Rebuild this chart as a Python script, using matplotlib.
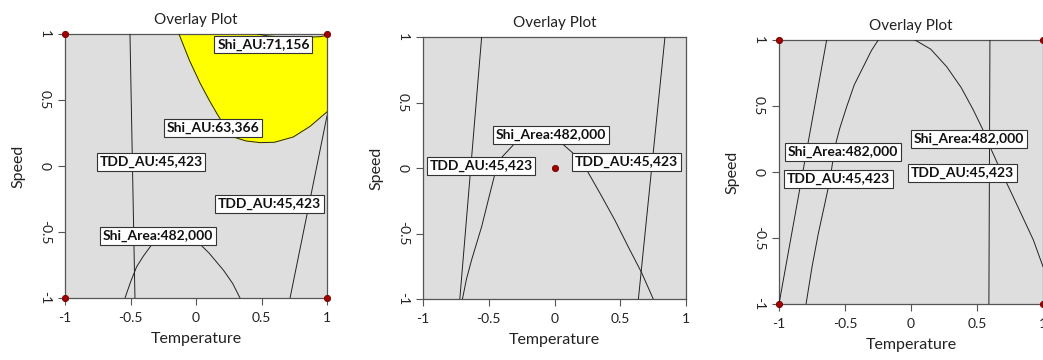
import numpy as np
import matplotlib
matplotlib.use("Agg")
import matplotlib.pyplot as plt

plt.rcParams['font.family'] = ['Lato', 'DejaVu Sans']

# ---- data ----
ticks = [-1, -0.5, 0, 0.5, 1]
tick_labels = ["-1", "-0.5", "0", "0.5", "1"]

# panel 1
p1_tdd_left_x = [-0.504, -0.485, -0.466]
p1_tdd_left_y = [1.0, 0.0, -1.0]
p1_tdd_right_x = [0.718, 0.947, 1.0]
p1_tdd_right_y = [-1.0, 0.12, 0.38]
p1_area_x = [-0.542, -0.50, -0.453, -0.40, -0.326, -0.15, 0.018, 0.10, 0.21, 0.28, 0.336]
p1_area_y = [-1.0, -0.88, -0.763, -0.68, -0.58, -0.50, -0.58, -0.66, -0.79, -0.89, -1.0]
p1_au63_x = [-0.13, -0.05, 0.03, 0.10, 0.158, 0.22, 0.285, 0.38, 0.49, 0.60, 0.743, 0.87, 1.0]
p1_au63_y = [1.0, 0.80, 0.63, 0.50, 0.40, 0.30, 0.22, 0.19, 0.177, 0.18, 0.22, 0.30, 0.41]
p1_au71_x = [0.47, 0.55, 0.70, 0.85, 0.95, 1.0]
p1_au71_y = [1.0, 0.985, 0.975, 0.975, 0.98, 0.99]
p1_dots_x = [-1, 1, -1, 1]
p1_dots_y = [1, 1, -1, -1]
p1_labels = ["Shi_AU:71,156", "Shi_AU:63,366", "TDD_AU:45,423", "TDD_AU:45,423", "Shi_Area:482,000"]
p1_label_x = [0.515, 0.13, -0.344, 0.562, -0.29]
p1_label_y = [0.92, 0.29, 0.03, -0.29, -0.528]

# panel 2
p2_tdd_left_x = [-0.554, -0.72]
p2_tdd_left_y = [1.0, -1.0]
p2_tdd_right_x = [0.84, 0.638]
p2_tdd_right_y = [1.0, -1.0]
p2_area_x = [-0.70, -0.67, -0.63, -0.554, -0.50, -0.452, -0.397, -0.30, -0.13,
             0.042, 0.156, 0.245, 0.35, 0.46, 0.56, 0.663, 0.751]
p2_area_y = [-1.0, -0.85, -0.70, -0.448, -0.23, -0.04, 0.086, 0.19, 0.26,
             0.20, 0.10, -0.015, -0.20, -0.40, -0.60, -0.80, -1.0]
p2_dots_x = [0]
p2_dots_y = [0]
p2_labels = ["Shi_Area:482,000", "TDD_AU:45,423", "TDD_AU:45,423"]
p2_label_x = [-0.029, -0.559, 0.549]
p2_label_y = [0.252, 0.013, 0.048]

# panel 3
p3_tdd_left_x = [-0.639, -1.0]
p3_tdd_left_y = [1.0, -1.0]
p3_tdd_right_x = [0.598, 0.59]
p3_tdd_right_y = [1.0, -1.0]
p3_area_left_x = [-0.795, -0.75, -0.702, -0.655, -0.614, -0.576, -0.54, -0.487,
                  -0.43, -0.361, -0.30, -0.248]
p3_area_left_y = [-1.0, -0.72, -0.465, -0.25, -0.06, 0.192, 0.33, 0.495,
                  0.66, 0.798, 0.92, 1.0]
p3_area_right_x = [0.03, 0.15, 0.27, 0.38, 0.472, 0.54, 0.598, 0.68, 0.763, 0.85, 0.927, 1.0]
p3_area_right_y = [1.0, 0.93, 0.798, 0.64, 0.47, 0.33, 0.192, 0.01, -0.164, -0.35, -0.515, -0.717]
p3_dots_x = [-1, 1, -1, 1]
p3_dots_y = [1, 1, -1, -1]
p3_labels = ["Shi_Area:482,000", "TDD_AU:45,423", "Shi_Area:482,000", "TDD_AU:45,423"]
p3_label_x = [-0.513, -0.548, 0.441, 0.39]
p3_label_y = [0.15, -0.053, 0.248, -0.01]


fig = plt.figure(figsize=(10.43, 3.6), dpi=100)
ax1 = fig.add_axes([65 / 1043, 1 - 298 / 360, 262 / 1043, 264 / 360])
ax2 = fig.add_axes([423 / 1043, 1 - 299 / 360, 263 / 1043, 262 / 360])
ax3 = fig.add_axes([779 / 1043, 1 - 304 / 360, 264 / 1043, 264 / 360])


def style_axes(ax):
    ax.set_facecolor('#dedede')
    ax.set_xlim(-1, 1)
    ax.set_ylim(-1, 1)
    ax.set_xticks(ticks)
    ax.set_xticklabels(tick_labels)
    ax.set_yticks(ticks)
    ax.set_yticklabels(tick_labels, rotation=270, va='center')
    ax.tick_params(direction='out', length=5, width=0.8, color='#555555',
                   labelsize=10, labelcolor='#222222', pad=5)
    for s in ax.spines.values():
        s.set_color('#555555')
        s.set_linewidth(0.9)
    ax.set_title('Overlay Plot', fontsize=11, color='#222222', pad=7)
    ax.set_xlabel('Temperature', fontsize=11.5, color='#222222', labelpad=6)
    ax.set_ylabel('Speed', fontsize=11.5, color='#222222', labelpad=10)


def add_labels(ax, labels, xs, ys):
    for s, x, y in zip(labels, xs, ys):
        ax.text(x, y, s, ha='center', va='center', fontsize=10, fontweight='bold',
                color='#111111', zorder=6,
                bbox=dict(boxstyle='square,pad=0.2', fc='white', ec='#333333', lw=0.8))


def add_dots(ax, xs, ys):
    ax.plot(xs, ys, 'o', color='#a00000', markersize=4.5, markeredgecolor='#700000',
            markeredgewidth=0.6, clip_on=False, zorder=7)


line_kw = dict(color='#222222', linewidth=0.7, zorder=3)

# ---- panel 1 ----
style_axes(ax1)
fill_x = p1_au63_x + p1_au71_x[::-1]
fill_y = p1_au63_y + p1_au71_y[::-1]
ax1.fill(fill_x, fill_y, color='#ffff00', zorder=2)
ax1.plot(p1_au63_x, p1_au63_y, **line_kw)
ax1.plot(p1_au71_x, p1_au71_y, **line_kw)
ax1.plot(p1_tdd_left_x, p1_tdd_left_y, **line_kw)
ax1.plot(p1_tdd_right_x, p1_tdd_right_y, **line_kw)
ax1.plot(p1_area_x, p1_area_y, **line_kw)
add_labels(ax1, p1_labels, p1_label_x, p1_label_y)
add_dots(ax1, p1_dots_x, p1_dots_y)

# ---- panel 2 ----
style_axes(ax2)
ax2.plot(p2_tdd_left_x, p2_tdd_left_y, **line_kw)
ax2.plot(p2_tdd_right_x, p2_tdd_right_y, **line_kw)
ax2.plot(p2_area_x, p2_area_y, **line_kw)
add_labels(ax2, p2_labels, p2_label_x, p2_label_y)
add_dots(ax2, p2_dots_x, p2_dots_y)

# ---- panel 3 ----
style_axes(ax3)
ax3.plot(p3_tdd_left_x, p3_tdd_left_y, **line_kw)
ax3.plot(p3_tdd_right_x, p3_tdd_right_y, **line_kw)
ax3.plot(p3_area_left_x, p3_area_left_y, **line_kw)
ax3.plot(p3_area_right_x, p3_area_right_y, **line_kw)
add_labels(ax3, p3_labels, p3_label_x, p3_label_y)
add_dots(ax3, p3_dots_x, p3_dots_y)

fig.savefig('out.png', dpi=100)
